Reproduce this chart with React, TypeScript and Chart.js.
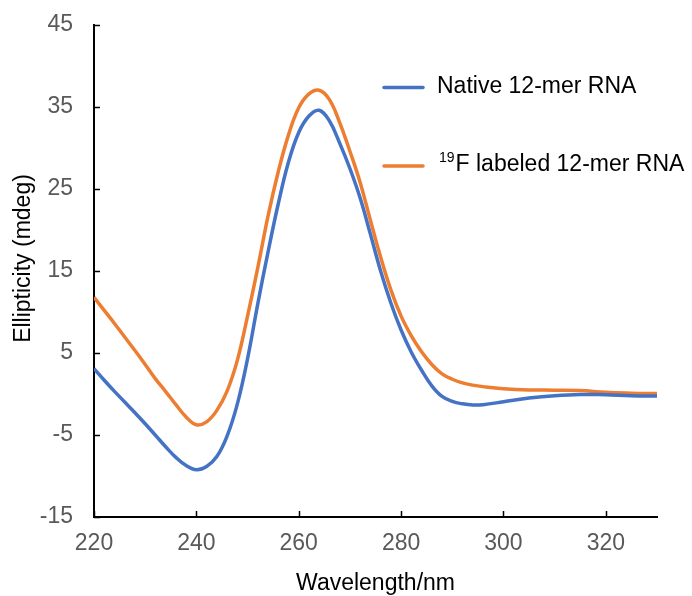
import { useEffect, useRef } from "react";
import { Chart, registerables } from "chart.js";

Chart.register(...registerables);

// ---- data ----
const wavelengths = [
  220, 222, 224, 226, 228, 230, 232, 234, 236, 238, 240, 242, 244, 246, 248,
  250, 252, 254, 256, 258, 260, 262, 264, 266, 268, 270, 272, 274, 276, 278,
  280, 282, 284, 286, 288, 290, 292, 294, 296, 300, 305, 310, 315, 320, 325, 330,
];
const nativeRNA = [
  3.1, 1.68, 0.32, -0.98, -2.28, -3.63, -5.03, -6.43, -7.73, -8.73, -9.23, -8.83, -7.63, -5.13, -1.23,
  4.3, 11.0, 17.3, 23.2, 28.3, 31.9, 33.9, 34.6, 33.3, 30.6, 27.5, 23.9, 19.5, 15.0, 11.1,
  7.8, 5.1, 2.9, 1.0, -0.3, -0.9, -1.2, -1.35, -1.3, -0.95, -0.5, -0.2, -0.05, -0.1, -0.2, -0.25,
];
const labeledRNA = [
  11.8, 10.2, 8.6, 6.95, 5.3, 3.6, 1.85, 0.3, -1.3, -2.8, -3.75, -3.4, -2.0, 0.35, 4.1,
  9.5, 15.4, 21.7, 27.1, 31.6, 34.9, 36.6, 37.05, 35.9, 33.1, 29.6, 25.8, 21.2, 16.7, 12.7,
  9.5, 7.1, 5.15, 3.6, 2.45, 1.8, 1.35, 1.08, 0.9, 0.65, 0.5, 0.47, 0.42, 0.2, 0.1, 0.05,
];
const xTickValues = [220, 240, 260, 280, 300, 320];
const yTickValues = [-15, -5, 5, 15, 25, 35, 45];
const xTitle = "Wavelength/nm";
const yTitle = "Ellipticity (mdeg)";
const legendEntries = [
  { sup: "", text: "Native 12-mer RNA", color: "#4472C4" },
  { sup: "19", text: "F labeled 12-mer RNA", color: "#ED7D31" },
];

const FONT = "'Liberation Sans', Arial, sans-serif";

const decorPlugin = {
  id: "decor",
  afterDraw(chart: any) {
    const { ctx, chartArea, scales } = chart;
    const xs = scales.x;
    const ys = scales.y;
    ctx.save();
    // inward tick marks
    ctx.strokeStyle = "#000";
    ctx.lineWidth = 1.5;
    yTickValues.forEach((v) => {
      const py = Math.round(ys.getPixelForValue(v)) + 0.5;
      ctx.beginPath();
      ctx.moveTo(chartArea.left, py);
      ctx.lineTo(chartArea.left + 6, py);
      ctx.stroke();
    });
    xTickValues.forEach((v) => {
      const px = Math.round(xs.getPixelForValue(v)) + 0.5;
      ctx.beginPath();
      ctx.moveTo(px, chartArea.bottom);
      ctx.lineTo(px, chartArea.bottom - 6);
      ctx.stroke();
    });
    // axis titles
    ctx.fillStyle = "#000";
    ctx.font = `23px ${FONT}`;
    ctx.textAlign = "center";
    ctx.textBaseline = "alphabetic";
    ctx.fillText(xTitle, (chartArea.left + chartArea.right) / 2, 590);
    ctx.save();
    ctx.translate(24, 258.5);
    ctx.rotate(-Math.PI / 2);
    ctx.textBaseline = "middle";
    ctx.fillText(yTitle, 0, 0);
    ctx.restore();
    // legend
    const rows = [87.5, 166];
    const baselines = [92.5, 170.5];
    legendEntries.forEach((e, i) => {
      ctx.strokeStyle = e.color;
      ctx.lineWidth = 3.5;
      ctx.lineCap = "round";
      ctx.beginPath();
      ctx.moveTo(384, rows[i]);
      ctx.lineTo(423, rows[i]);
      ctx.stroke();
      ctx.fillStyle = "#000";
      ctx.textAlign = "left";
      ctx.textBaseline = "alphabetic";
      let tx = 437;
      if (e.sup) {
        ctx.font = `14px ${FONT}`;
        ctx.fillText(e.sup, 439, baselines[i] - 9);
        tx = 439 + ctx.measureText(e.sup).width + 1;
      }
      ctx.font = `23px ${FONT}`;
      ctx.fillText(e.text, tx, baselines[i]);
    });
    ctx.restore();
  },
};

export default function App() {
  const ref = useRef<HTMLCanvasElement>(null);
  useEffect(() => {
    if (!ref.current) return;
    const chart = new Chart(ref.current, {
      type: "line",
      data: {
        datasets: [
          {
            label: legendEntries[0].text,
            data: wavelengths.map((w, i) => ({ x: w, y: nativeRNA[i] })),
            borderColor: legendEntries[0].color,
            borderWidth: 3.5,
            pointRadius: 0,
            tension: 0.4,
          },
          {
            label: legendEntries[1].sup + legendEntries[1].text,
            data: wavelengths.map((w, i) => ({ x: w, y: labeledRNA[i] })),
            borderColor: legendEntries[1].color,
            borderWidth: 3.5,
            pointRadius: 0,
            tension: 0.4,
          },
        ],
      },
      options: {
        animation: false,
        responsive: false,
        layout: { padding: { top: 25, right: 35, left: 0, bottom: 0 } },
        plugins: { legend: { display: false }, tooltip: { enabled: false } },
        scales: {
          x: {
            type: "linear",
            min: 220,
            max: 330,
            afterBuildTicks: (s: any) => {
              s.ticks = xTickValues.map((v) => ({ value: v }));
            },
            afterFit: (s: any) => {
              s.height = 79;
              s.paddingLeft = 0;
              s.paddingRight = 0;
            },
            grid: { display: false, drawTicks: false },
            border: { display: true, color: "#000", width: 2 },
            ticks: {
              color: "#595959",
              font: { family: FONT, size: 23 },
              padding: 13,
              maxRotation: 0,
              autoSkip: false,
            },
          },
          y: {
            type: "linear",
            min: -15,
            max: 45,
            afterBuildTicks: (s: any) => {
              s.ticks = yTickValues.map((v) => ({ value: v }));
            },
            afterFit: (s: any) => {
              s.width = 94;
              s.paddingTop = 0;
              s.paddingBottom = 0;
            },
            grid: { display: false, drawTicks: false },
            border: { display: true, color: "#000", width: 2 },
            ticks: {
              color: "#595959",
              font: { family: FONT, size: 23 },
              padding: 21,
              autoSkip: false,
            },
          },
        },
      },
      plugins: [decorPlugin],
    });
    return () => chart.destroy();
  }, []);
  return (
    <div style={{ position: "fixed", left: 0, top: 0, width: 692, height: 596, background: "#fff" }}>
      <canvas ref={ref} width={692} height={596} />
    </div>
  );
}
